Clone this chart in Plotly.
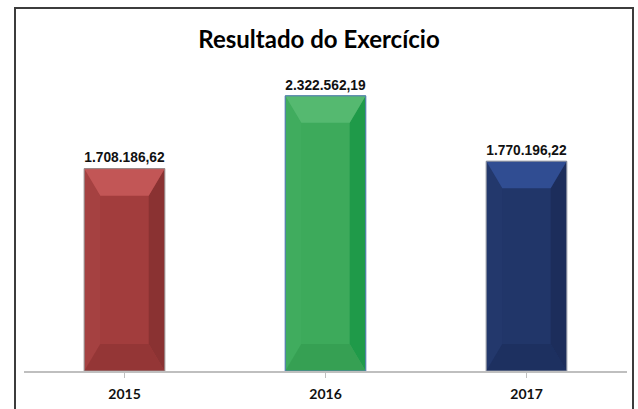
import plotly.graph_objects as go

# Annual results
years = ["2015", "2016", "2017"]
values = [1708186.62, 2322562.19, 1770196.22]
value_labels = ["1.708.186,62", "2.322.562,19", "1.770.196,22"]

# Bevelled bar palette: face, top, bottom, left, right, outline
face_colors = ["#A23D3D", "#3DAA5B", "#213669"]
top_colors = ["#C25656", "#55B970", "#304D92"]
bottom_colors = ["#943636", "#36A053", "#1D3060"]
left_colors = ["#A54141", "#40AC5E", "#23386C"]
right_colors = ["#8A3232", "#1F9A49", "#1C2D5B"]
outline_colors = ["#9A8A8A", "#5A80B5", "#8A90A0"]

W, H = 638, 409
ML, MR, MT, MB = 24, 11, 63, 38
Y_MAX = 2.6e6
BAR_WIDTH = 0.4

plot_w = W - ML - MR
plot_h = H - MT - MB
px_x = len(years) / plot_w      # data units per pixel on x
px_y = Y_MAX / plot_h           # data units per pixel on y

fig = go.Figure()
fig.add_trace(go.Bar(
    x=list(range(len(years))),
    y=values,
    width=BAR_WIDTH,
    marker=dict(color=face_colors, line=dict(color=outline_colors, width=1)),
    text=[f"<b>{t}</b>" for t in value_labels],
    textposition="outside",
    textfont=dict(family="Liberation Sans Narrow, Liberation Sans, Arial", size=17, color="#111111"),
    cliponaxis=False,
    hoverinfo="skip",
))

# Bevel facets drawn over each bar
bx = 16 * px_x
by = 27 * px_y
shapes = []
for i, v in enumerate(values):
    x0, x1 = i - BAR_WIDTH / 2, i + BAR_WIDTH / 2
    facets = [
        (left_colors[i], [(x0, 0), (x0, v), (x0 + bx, v - by), (x0 + bx, by)]),
        (right_colors[i], [(x1, 0), (x1, v), (x1 - bx, v - by), (x1 - bx, by)]),
        (bottom_colors[i], [(x0, 0), (x1, 0), (x1 - bx, by), (x0 + bx, by)]),
        (top_colors[i], [(x0, v), (x1, v), (x1 - bx, v - by), (x0 + bx, v - by)]),
    ]
    for col, pts in facets:
        path = "M " + " L ".join(f"{px},{py}" for px, py in pts) + " Z"
        shapes.append(dict(type="path", path=path, xref="x", yref="y",
                           fillcolor=col, line=dict(width=0), layer="above"))
    # thin outline on top of the facets
    shapes.append(dict(type="rect", xref="x", yref="y", x0=x0, x1=x1, y0=0, y1=v,
                       line=dict(color=outline_colors[i], width=1), layer="above"))

# Chart frame
fx0 = (15 - ML) / plot_w
fx1 = (633 - ML) / plot_w
fy1 = (H - MB - 8) / plot_h
fy0 = (H - MB - 430) / plot_h
shapes.append(dict(type="rect", xref="paper", yref="paper", x0=fx0, x1=fx1, y0=fy0, y1=fy1,
                   line=dict(color="#3C3C3C", width=2), fillcolor="rgba(0,0,0,0)"))

fig.update_layout(
    width=W, height=H,
    margin=dict(l=ML, r=MR, t=MT, b=MB),
    paper_bgcolor="white", plot_bgcolor="white",
    showlegend=False,
    shapes=shapes,
    title=dict(text="<b>Resultado do Exercício</b>", x=0.5, xanchor="center",
               y=1 - 40 / H, yanchor="middle",
               font=dict(family="Lato, Open Sans, sans-serif", size=24, color="#000000")),
    xaxis=dict(
        range=[-0.5, len(years) - 0.5],
        tickmode="array", tickvals=list(range(len(years))), ticktext=[f"<b>{y}</b>" for y in years],
        tickson="boundaries", ticks="outside", ticklen=5, tickcolor="#BFBFBF",
        ticklabelstandoff=4, automargin=False,
        showline=True, linecolor="#BFBFBF", linewidth=1.5,
        showgrid=False, zeroline=False,
        tickfont=dict(family="Lato, Open Sans, sans-serif", size=14, color="#111111"),
    ),
    yaxis=dict(range=[0, Y_MAX], visible=False, showgrid=False, zeroline=False),
)

fig.write_html("out.html")
